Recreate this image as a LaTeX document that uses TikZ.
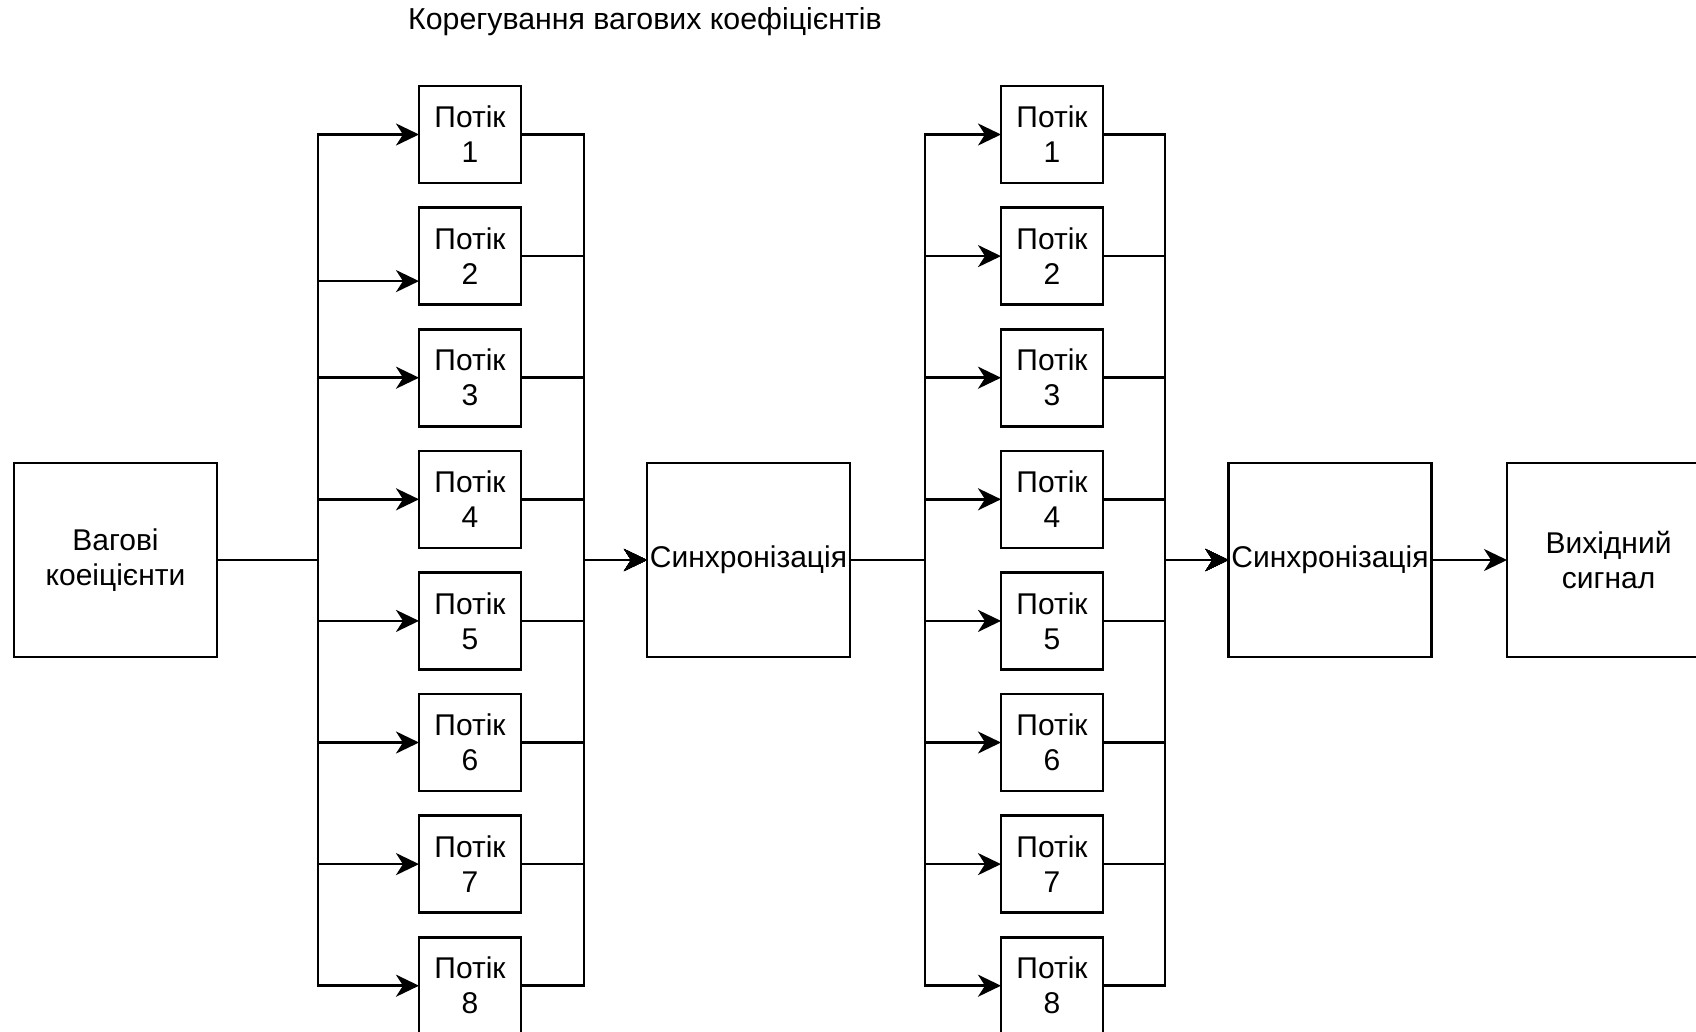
\documentclass[tikz,border=0pt]{standalone}
\usepackage{fontspec}
\setmainfont{Liberation Sans}
\usetikzlibrary{arrows.meta,calc}
\begin{document}
\begin{tikzpicture}[x=1pt,y=-1pt,
  box/.style={draw,line width=2.6pt,inner sep=0pt,outer sep=0pt,align=center,font=\fontsize{30}{35}\selectfont},
  stream/.style={box,minimum width=102pt,minimum height=97pt},
  big/.style={box,minimum width=203pt,minimum height=194pt},
  wire/.style={line width=2.6pt},
  arr/.style={wire,-{Stealth[length=23pt,width=22pt,inset=7pt]}}]
\useasboundingbox (0,0) rectangle (1696,1031);
\fill[white] (0,0) rectangle (1696,1031);
\clip (0,0) rectangle (1696,1031);

\node[font=\fontsize{30.3}{36}\selectfont] (title) at (645,22) {Корегування вагових коефіцієнтів};

\node[big] (w) at (115.5,560) {Вагові\\коеіцієнти};
\node[big] (s1) at (748.5,560) {Синхронізація};
\node[big] (s2) at (1330,560) {Синхронізація};
\node[big] (o) at (1608.5,560) {Вихідний\\сигнал};

\coordinate (j0) at (318,560);
\coordinate (j1) at (584,560);
\coordinate (j2) at (925,560);
\coordinate (j3) at (1165,560);

\foreach \i in {1,...,8} {
  \node[stream] (a\i) at (470,{134.5+(\i-1)*121.6}) {Потік\\\i};
  \node[stream] (b\i) at (1052,{134.5+(\i-1)*121.6}) {Потік\\\i};
}

\foreach \i in {1,3,4,5,6,7,8} {
  \draw[arr] (w.east) -- (j0) |- (a\i.west);
}
\draw[arr] (w.east) -- (j0) |- ($(a2.west)+(0,25)$);

\foreach \i in {1,...,8} {
  \draw[arr] (a\i.east) -| (j1) -- (s1.west);
  \draw[arr] (s1.east) -- (j2) |- (b\i.west);
  \draw[arr] (b\i.east) -| (j3) -- (s2.west);
}
\draw[arr] (s2.east) -- (o.west);
\end{tikzpicture}
\end{document}
